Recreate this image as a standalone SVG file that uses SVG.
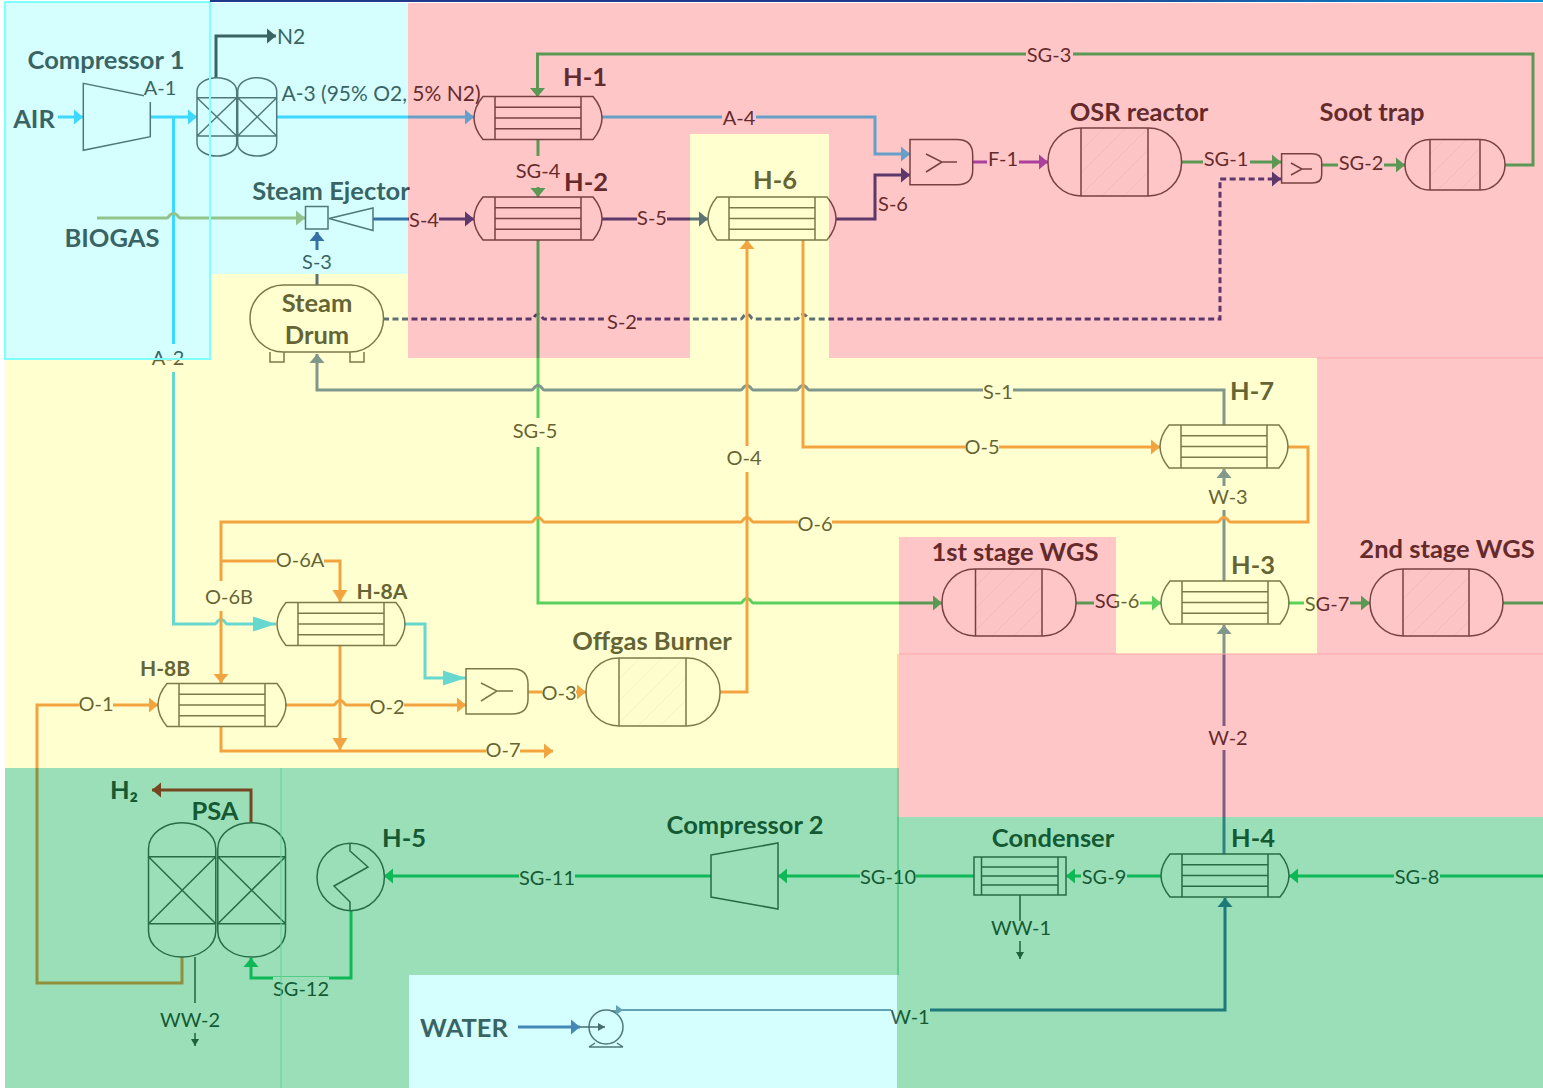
<svg xmlns="http://www.w3.org/2000/svg" width="1543" height="1088" viewBox="0 0 1543 1088">
<style>
text{font-family:"Lato","Carlito","Open Sans",sans-serif;fill:#212121;text-anchor:middle;dominant-baseline:central;transform:translateY(-1px)}
.l{font-size:20px}
.t{font-size:25.500px;font-weight:700}
.s{font-size:21px;font-weight:700}
.m{fill:#fff}
.c{fill:none;stroke-width:3;stroke-linejoin:miter}
.e{fill:none;stroke:#404040;stroke-width:1.5}
.h{fill:url(#hatch);stroke:none}
.air{stroke:#24c8ff}.org{stroke:#ed7d31}.sg{stroke:#14be5a}.pur{stroke:#18357a}.wat{stroke:#4a6a9e}.dk{stroke:#2f5597}
.bio{stroke:#a0aa5a}.f1{stroke:#8540c0}.red{stroke:#c00000}.n2{stroke:#212121}.thin{stroke:#303030;stroke-width:1.5;fill:none}
.zc{fill:#75ffff;fill-opacity:.3}
.zp{fill:#ff4249;fill-opacity:.3}
.zy{fill:#ffff64;fill-opacity:.3}
.zg{fill:#05af50;fill-opacity:.4}
</style>
<defs>
<pattern id="hatch" width="22" height="22" patternUnits="userSpaceOnUse"><rect width="22" height="22" fill="#fcfcfc"/><path d="M-2 24L24 -2M-2 2L2 -2M20 24L24 20" stroke="#efefef" stroke-width="1"/></pattern>
<linearGradient id="strip"><stop offset="0" stop-color="#1f3a8a"/><stop offset=".6" stop-color="#1f3a8a"/><stop offset="1" stop-color="#0d8fd0"/></linearGradient>
<marker id="a-air" markerUnits="userSpaceOnUse" markerWidth="10" markerHeight="16" refX="9" refY="8" orient="auto"><path d="M0 .5L9 8L0 15.5Z" fill="#24c8ff"/></marker>
<marker id="a-airb" markerUnits="userSpaceOnUse" markerWidth="24" markerHeight="16" refX="23" refY="8" orient="auto"><path d="M0 .5L23 8L0 15.5Z" fill="#24c8ff"/></marker>
<marker id="a-org" markerUnits="userSpaceOnUse" markerWidth="10" markerHeight="16" refX="9" refY="8" orient="auto"><path d="M0 .5L9 8L0 15.5Z" fill="#ed7d31"/></marker>
<marker id="a-orgb" markerUnits="userSpaceOnUse" markerWidth="13" markerHeight="16" refX="12" refY="8" orient="auto"><path d="M0 .5L12 8L0 15.5Z" fill="#ed7d31"/></marker>
<marker id="a-sg" markerUnits="userSpaceOnUse" markerWidth="10" markerHeight="16" refX="9" refY="8" orient="auto"><path d="M0 .5L9 8L0 15.5Z" fill="#14be5a"/></marker>
<marker id="a-pur" markerUnits="userSpaceOnUse" markerWidth="10" markerHeight="16" refX="9" refY="8" orient="auto"><path d="M0 .5L9 8L0 15.5Z" fill="#18357a"/></marker>
<marker id="a-wat" markerUnits="userSpaceOnUse" markerWidth="10" markerHeight="16" refX="9" refY="8" orient="auto"><path d="M0 .5L9 8L0 15.5Z" fill="#4a6a9e"/></marker>
<marker id="a-dk" markerUnits="userSpaceOnUse" markerWidth="10" markerHeight="16" refX="9" refY="8" orient="auto"><path d="M0 .5L9 8L0 15.5Z" fill="#2f5597"/></marker>
<marker id="a-bio" markerUnits="userSpaceOnUse" markerWidth="10" markerHeight="16" refX="9" refY="8" orient="auto"><path d="M0 .5L9 8L0 15.5Z" fill="#a0aa5a"/></marker>
<marker id="a-f1" markerUnits="userSpaceOnUse" markerWidth="10" markerHeight="16" refX="9" refY="8" orient="auto"><path d="M0 .5L9 8L0 15.5Z" fill="#8540c0"/></marker>
<marker id="a-red" markerUnits="userSpaceOnUse" markerWidth="10" markerHeight="16" refX="9" refY="8" orient="auto"><path d="M0 .5L9 8L0 15.5Z" fill="#c00000"/></marker>
<marker id="a-n2" markerUnits="userSpaceOnUse" markerWidth="10" markerHeight="16" refX="9" refY="8" orient="auto"><path d="M0 .5L9 8L0 15.5Z" fill="#212121"/></marker>
<marker id="a-t" markerUnits="userSpaceOnUse" markerWidth="12" markerHeight="8" refX="7" refY="4" orient="auto"><path d="M0 0L7 4L0 8Z" fill="#303030"/></marker>
<path id="hxs" d="M9 0H119C124 6 128 13 128 21.5C128 30 124 37 119 43H9C4 37 0 30 0 21.5C0 13 4 6 9 0ZM21 0V43M107 0V43M21 10.7H107M21 21.5H107M21 32.3H107"/>
</defs>
<rect width="1543" height="1088" fill="#fff"/>

<g id="connectors">
<path class="c air" marker-end="url(#a-air)" d="M58 117H83"/>
<path class="c air" marker-end="url(#a-air)" d="M150 117H197"/>
<path class="c air" marker-end="url(#a-airb)" d="M173.500 117V624H215C217 624 217 619.500 221 619.500C225 619.500 225 624 227 624H276"/>
<path class="c air" marker-end="url(#a-air)" d="M277 117H474"/>
<path class="c air" marker-end="url(#a-air)" d="M602 117H875V154H910"/>
<path class="c air" marker-end="url(#a-airb)" d="M404 624H425V678H466"/>
<path class="c bio" marker-end="url(#a-bio)" d="M97 218H167C169 218 169 213.500 173.500 213.500C178 213.500 178 218 180 218H305"/>
<path class="c pur" marker-end="url(#a-pur)" d="M373 219H474"/>
<path class="c pur" marker-end="url(#a-pur)" d="M317 285V232"/>
<path class="c pur" marker-end="url(#a-pur)" d="M602 219H708"/>
<path class="c pur" marker-end="url(#a-pur)" d="M836 219H875V175H910"/>
<path class="c pur" stroke-dasharray="6 3.500" marker-end="url(#a-pur)" d="M383 319H532C534 319 534 314.500 538 314.500C542 314.500 542 319 544 319H741C743 319 743 314.500 747 314.500C751 314.500 751 319 753 319H797C799 319 799 314.500 803 314.500C807 314.500 807 319 809 319H1220V179H1281"/>
<path class="c f1" marker-end="url(#a-f1)" d="M972 162H1048"/>
<path class="c sg" marker-end="url(#a-sg)" d="M1181 162H1281"/>
<path class="c sg" marker-end="url(#a-sg)" d="M1322 165H1405"/>
<path class="c sg" marker-end="url(#a-sg)" d="M1505 165H1533V54H537.500V97"/>
<path class="c sg" marker-end="url(#a-sg)" d="M538 139V197"/>
<path class="c sg" marker-end="url(#a-sg)" d="M538 240V603H741C743 603 743 598.500 747 598.500C751 598.500 751 603 753 603H942"/>
<path class="c sg" marker-end="url(#a-sg)" d="M1076 603H1161"/>
<path class="c sg" marker-end="url(#a-sg)" d="M1288 603H1370"/>
<path class="c sg" d="M1503 603H1543"/>
<path class="c sg" marker-end="url(#a-sg)" d="M1543 876H1289"/>
<path class="c sg" marker-end="url(#a-sg)" d="M1161 876H1066"/>
<path class="c sg" marker-end="url(#a-sg)" d="M974 876H778"/>
<path class="c sg" marker-end="url(#a-sg)" d="M711 876H384"/>
<path class="c sg" marker-end="url(#a-sg)" d="M351 911V978H251V958"/>
<path class="c wat" marker-end="url(#a-wat)" d="M1224 425V390H809C807 390 807 385.500 803 385.500C799 385.500 799 390 797 390H753C751 390 751 385.500 747 385.500C743 385.500 743 390 741 390H544C542 390 542 385.500 538 385.500C534 385.500 534 390 532 390H317V354"/>
<path class="c wat" marker-end="url(#a-wat)" d="M1224 581V469"/>
<path class="c wat" marker-end="url(#a-wat)" d="M1224 854V625"/>
<path class="c dk" d="M900 1010H1225V898" marker-end="url(#a-dk)"/>
<path d="M617 1010H900" fill="none" stroke="#5b7a96" stroke-width="2"/>
<path class="c dk" marker-end="url(#a-dk)" d="M518 1027H580"/>
<path class="c org" marker-end="url(#a-org)" d="M720 692H747V240"/>
<path class="c org" marker-end="url(#a-org)" d="M803 240V447H1160"/>
<path class="c org" marker-end="url(#a-org)" d="M1287 447H1308V522H1230C1228 522 1228 517.500 1224 517.500C1220 517.500 1220 522 1218 522H753C751 522 751 517.500 747 517.500C743 517.500 743 522 741 522H544C542 522 542 517.500 538 517.500C534 517.500 534 522 532 522H221V683"/>
<path class="c org" marker-end="url(#a-orgb)" d="M221 561H340V602"/>
<path class="c org" marker-end="url(#a-orgb)" d="M340 646V750"/>
<path class="c org" marker-end="url(#a-org)" d="M221 727V751H553"/>
<path class="c org" marker-end="url(#a-org)" d="M285 705H334C336 705 336 700.500 340 700.500C344 700.500 344 705 346 705H466"/>
<path class="c org" marker-end="url(#a-org)" d="M528 692H586"/>
<path class="c org" marker-end="url(#a-org)" d="M182 957V983H37V705H158"/>
<path class="c red" marker-end="url(#a-red)" d="M251 823V790H152"/>
<path class="c n2" marker-end="url(#a-n2)" d="M216 78V36H276"/>
<path class="thin" d="M195 957V1003"/>
<path class="thin" marker-end="url(#a-t)" d="M195 1033V1046"/>
<path class="thin" d="M1020 895V921"/>
<path class="thin" marker-end="url(#a-t)" d="M1020 941V959"/>
</g>

<g id="node-compressor-1"><path class="e" d="M150.300 102V136.700L83.300 150.300V83.300L150.300 97"/><text class="t" x="106" y="60">Compressor 1</text></g>
<g id="node-air-source"><text class="t" x="34" y="119">AIR</text></g>
<g id="node-biogas-source"><text class="t" x="112" y="238">BIOGAS</text></g>
<g id="node-air-separator"><path class="e" d="M197 97.700V91C197 83 207 77.700 217 77.700C227 77.700 236.700 83 236.700 91V143C236.700 151 227 156 217 156C207 156 197 151 197 143ZM197 97.700H236.700M197 136H236.700M197 97.700L236.700 136M236.700 97.700L197 136"/><path class="e" d="M237.700 97.700V91C237.700 83 247 77.700 257 77.700C267 77.700 276.700 83 276.700 91V143C276.700 151 267 156 257 156C247 156 237.700 151 237.700 143ZM237.700 97.700H276.700M237.700 136H276.700M237.700 97.700L276.700 136M276.700 97.700L237.700 136"/></g>
<g id="node-h1"><use href="#hxs" class="e" x="474" y="96.500"/><text class="t" x="585" y="77">H-1</text></g>
<g id="node-h2"><use href="#hxs" class="e" x="474" y="197"/><text class="t" x="586" y="182">H-2</text></g>
<g id="node-h6"><use href="#hxs" class="e" x="708" y="197"/><text class="t" x="775" y="180">H-6</text></g>
<g id="node-h7"><use href="#hxs" class="e" x="1160" y="425"/><text class="t" x="1252" y="391">H-7</text></g>
<g id="node-h3"><use href="#hxs" class="e" x="1161" y="581"/><text class="t" x="1253" y="565">H-3</text></g>
<g id="node-h4"><use href="#hxs" class="e" x="1161" y="854"/><text class="t" x="1253" y="838">H-4</text></g>
<g id="node-h8a"><use href="#hxs" class="e" x="277" y="602.500"/><text class="s" x="382" y="591">H-8A</text></g>
<g id="node-h8b"><use href="#hxs" class="e" x="158" y="683.500"/><text class="s" x="165" y="668">H-8B</text></g>
<g id="node-ejector"><rect class="e" x="305.500" y="206.500" width="22.500" height="22.500"/><path class="e" d="M329 218.500L373 208V230.500Z"/><text class="t" x="331" y="191">Steam Ejector</text></g>
<g id="node-steam-drum"><rect class="e" x="250" y="285" width="133.500" height="67" rx="33.500"/><path class="e" d="M270 352V362H284V352M350 352V362H364V352"/><text class="t" x="317" y="303">Steam</text><text class="t" x="317" y="335">Drum</text></g>
<g id="node-mixer-1"><path class="e" d="M910 139.500H957Q972.700 139.500 972.700 155V170Q972.700 184.700 957 184.700H910ZM926 154L942 162L926 172M942 162H957"/></g>
<g id="node-osr"><rect class="h" x="1081" y="128.500" width="67" height="67"/><rect class="e" x="1048" y="128" width="133.500" height="68" rx="33"/><path class="e" d="M1081 128V196M1148 128V196"/><text class="t" x="1139" y="112">OSR reactor</text></g>
<g id="node-mixer-2"><path class="e" d="M1281.600 153.700H1312Q1321.700 153.700 1321.700 162V175Q1321.700 183 1312 183H1281.600ZM1291 163L1302 169L1291 175M1302 169H1312"/></g>
<g id="node-soot-trap"><rect class="h" x="1430" y="140" width="50" height="50"/><rect class="e" x="1405" y="139.500" width="100" height="50.500" rx="25"/><path class="e" d="M1430 139.500V190M1480 139.500V190"/><text class="t" x="1372" y="112">Soot trap</text></g>
<g id="node-wgs-1"><rect class="h" x="975.500" y="569.500" width="66.500" height="66.500"/><rect class="e" x="942" y="569" width="134" height="67" rx="33"/><path class="e" d="M975.500 569V636M1042 569V636"/><text class="t" x="1015" y="552">1st stage WGS</text></g>
<g id="node-wgs-2"><rect class="h" x="1403" y="569.500" width="66" height="66.500"/><rect class="e" x="1370" y="569" width="133" height="67" rx="33"/><path class="e" d="M1403 569V636M1469 569V636"/><text class="t" x="1447" y="549">2nd stage WGS</text></g>
<g id="node-burner"><rect class="h" x="619" y="658.500" width="67" height="67"/><rect class="e" x="586" y="658" width="134" height="68" rx="33"/><path class="e" d="M619 658V726M686 658V726"/><text class="t" x="652" y="641">Offgas Burner</text></g>
<g id="node-mixer-3"><path class="e" d="M466 668.700H512Q528 668.700 528 684V699Q528 714 512 714H466ZM481 683L497 691L481 701M497 691H513"/></g>
<g id="node-psa"><path class="e" d="M148.500 856.700V849C148.500 833 165 822.700 182 822.700C199 822.700 215.800 833 215.800 849V931C215.800 947 199 957 182 957C165 957 148.500 947 148.500 931ZM148.500 856.700H215.800M148.500 923.700H215.800M148.500 856.700L215.800 923.700M215.800 856.700L148.500 923.700"/><path class="e" d="M217.800 856.700V849C217.800 833 234 822.700 251.500 822.700C269 822.700 285.500 833 285.500 849V931C285.500 947 269 957 251.500 957C234 957 217.800 947 217.800 931ZM217.800 856.700H285.500M217.800 923.700H285.500M217.800 856.700L285.500 923.700M285.500 856.700L217.800 923.700"/><text class="t" x="215" y="811">PSA</text></g>
<g id="node-h2-product"><text class="t" x="124" y="790">H₂</text></g>
<g id="node-h5"><circle class="e" cx="350.700" cy="877" r="33.700"/><path class="e" d="M350 843V851L368 867L334 886L350 902V911"/><text class="t" x="404" y="838">H-5</text></g>
<g id="node-compressor-2"><path class="e" d="M711 855L778 843V909L711 897Z"/><text class="t" x="745" y="825">Compressor 2</text></g>
<g id="node-condenser"><path class="e" d="M974 857H1066V895H974ZM981.500 857V895M1058 857V895M981.500 867H1058M981.500 876H1058M981.500 885H1058"/><text class="t" x="1053" y="838">Condenser</text></g>
<g id="node-water-source"><text class="t" x="464" y="1028">WATER</text></g>
<g id="node-pump"><ellipse class="e" cx="606" cy="1027" rx="17" ry="17"/><path class="e" d="M612 1011H620M589 1047H623M595 1043L589 1047M617 1043L623 1047"/><path class="thin" marker-end="url(#a-t)" d="M580 1027H605"/><path d="M616 1005L623 1010L616 1015Z" fill="#5b7a96"/></g>

<g id="connector-labels">
<rect class="m" x="144" y="76" width="33" height="26"/><text class="l" x="160" y="88">A-1</text>
<text class="l" x="381" y="93" style="font-size:21px">A-3 (95% O2, 5% N2)</text>
<text class="l" x="291" y="36" style="font-size:21px">N2</text>
<rect class="m" x="151" y="344" width="34" height="28"/><text class="l" x="168" y="358">A-2</text>
<rect class="m" x="303" y="250" width="28" height="24"/><text class="l" x="317" y="262">S-3</text>
<rect class="m" x="409" y="208" width="30" height="24"/><text class="l" x="424" y="220">S-4</text>
<rect class="m" x="722" y="107" width="34" height="22"/><text class="l" x="739" y="118">A-4</text>
<rect class="m" x="637" y="207" width="30" height="24"/><text class="l" x="652" y="218">S-5</text>
<text class="l" x="893" y="204">S-6</text>
<rect class="m" x="987" y="148" width="32" height="24"/><text class="l" x="1003" y="159">F-1</text>
<rect class="m" x="1203" y="148" width="47" height="24"/><text class="l" x="1226" y="159">SG-1</text>
<rect class="m" x="1338" y="152" width="46" height="24"/><text class="l" x="1361" y="163">SG-2</text>
<rect class="m" x="1026" y="44" width="47" height="24"/><text class="l" x="1049" y="55">SG-3</text>
<rect class="m" x="515" y="156" width="47" height="31"/><text class="l" x="538" y="171">SG-4</text>
<rect class="m" x="511" y="418" width="48" height="29"/><text class="l" x="535" y="431">SG-5</text>
<rect class="m" x="607" y="310" width="30" height="24"/><text class="l" x="622" y="322">S-2</text>
<rect class="m" x="727" y="446" width="34" height="26"/><text class="l" x="744" y="458">O-4</text>
<rect class="m" x="983" y="380" width="30" height="24"/><text class="l" x="998" y="392">S-1</text>
<rect class="m" x="965" y="435" width="34" height="24"/><text class="l" x="982" y="447">O-5</text>
<rect class="m" x="798" y="512" width="34" height="24"/><text class="l" x="815" y="524">O-6</text>
<rect class="m" x="1207" y="486" width="42" height="24"/><text class="l" x="1228" y="497">W-3</text>
<rect class="m" x="1207" y="726" width="42" height="24"/><text class="l" x="1228" y="738">W-2</text>
<rect class="m" x="1094" y="590" width="46" height="24"/><text class="l" x="1117" y="601">SG-6</text>
<rect class="m" x="1304" y="592" width="46" height="24"/><text class="l" x="1327" y="604">SG-7</text>
<rect class="m" x="276" y="549" width="48" height="24"/><text class="l" x="300" y="560">O-6A</text>
<rect class="m" x="205" y="581" width="49" height="30"/><text class="l" x="229" y="597">O-6B</text>
<rect class="m" x="79" y="693" width="34" height="24"/><text class="l" x="96" y="704">O-1</text>
<rect class="m" x="370" y="695" width="34" height="24"/><text class="l" x="387" y="707">O-2</text>
<rect class="m" x="542" y="681" width="34" height="24"/><text class="l" x="559" y="693">O-3</text>
<rect class="m" x="486" y="738" width="34" height="24"/><text class="l" x="503" y="750">O-7</text>
<rect class="m" x="1394" y="865" width="46" height="24"/><text class="l" x="1417" y="877">SG-8</text>
<rect class="m" x="1081" y="865" width="46" height="24"/><text class="l" x="1104" y="877">SG-9</text>
<rect class="m" x="860" y="865" width="56" height="24"/><text class="l" x="888" y="877">SG-10</text>
<rect class="m" x="519" y="866" width="56" height="24"/><text class="l" x="547" y="878">SG-11</text>
<rect class="m" x="273" y="977" width="56" height="24"/><text class="l" x="301" y="989">SG-12</text>
<text class="l" x="190" y="1020">WW-2</text>
<text class="l" x="1021" y="928">WW-1</text>
<rect class="m" x="891" y="1005" width="39" height="24"/><text class="l" x="910" y="1017">W-1</text>
</g>

<g id="zones">
<rect class="zc" x="210" y="3" width="198" height="271"/>
<rect class="zc" x="409" y="975" width="488" height="113"/>
<rect class="zp" x="408" y="3" width="282" height="355"/>
<rect class="zp" x="690" y="3" width="139" height="131"/>
<rect class="zp" x="829" y="3" width="714" height="355"/>
<rect class="zp" x="1317" y="358" width="226" height="296"/>
<rect class="zp" x="899" y="537" width="217" height="117"/>
<rect class="zp" x="897" y="654" width="646" height="163"/>
<rect class="zy" x="5" y="359" width="894" height="409"/>
<rect class="zy" x="210" y="274" width="198" height="85"/>
<rect class="zy" x="690" y="134" width="139" height="224"/>
<rect class="zy" x="899" y="358" width="418" height="179"/>
<rect class="zy" x="1116" y="537" width="201" height="117"/>
<rect class="zy" x="408" y="358" width="491" height="1"/>
<rect class="zg" x="5" y="768" width="894" height="207"/>
<rect class="zg" x="5" y="975" width="404" height="113"/>
<rect class="zg" x="897" y="817" width="646" height="271"/>
<rect x="5" y="2" width="205" height="357" fill="#75ffff" fill-opacity=".3" stroke="#80ffff" stroke-width="2"/>
<path d="M281 768V1088" stroke="#5fd39a" stroke-width="1" fill="none"/>
<path d="M899 654H1543M1317 358H1543" stroke="#ffa6aa" stroke-width="1" fill="none"/>
<rect x="210" y="0" width="1333" height="2" fill="url(#strip)"/>
</g>
</svg>
